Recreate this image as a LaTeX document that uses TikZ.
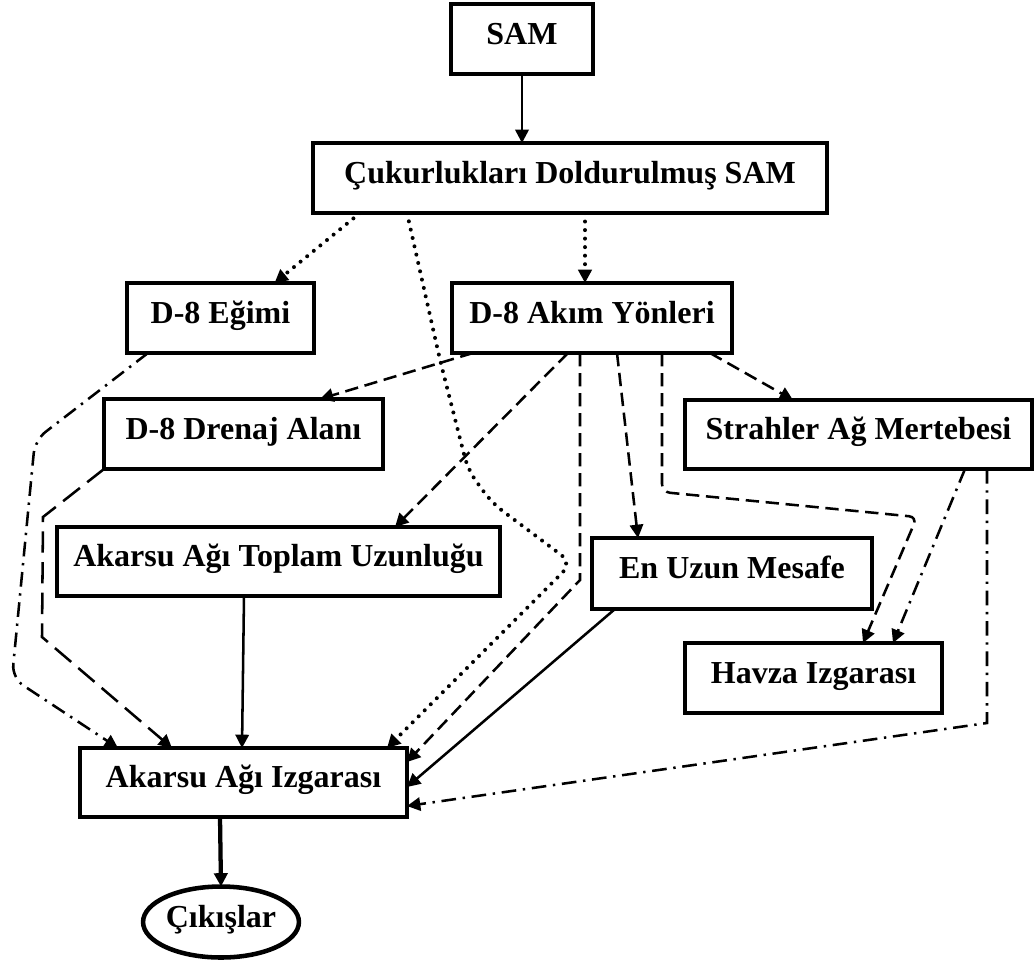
\documentclass[tikz,border=0pt]{standalone}
\usepackage{fontspec}
\setmainfont{Liberation Serif}
\usetikzlibrary{arrows.meta,calc,shapes.geometric}
\begin{document}
\begin{tikzpicture}[x=0.75pt,y=-0.75pt,
  box/.style={draw, line width=2.8pt, inner sep=0pt, outer sep=0pt,
    font=\bfseries\fontsize{24}{28}\selectfont, text height=16.5pt, text depth=8.5pt},
  conn/.style={line width=1.9pt, -{Triangle[length=10pt,width=10pt]}},
  dotline/.style={conn, line cap=round, dash pattern=on 0pt off 6.4pt, line width=3pt},
  dashline/.style={conn, dash pattern=on 10pt off 5pt},
  longdash/.style={conn, dash pattern=on 16pt off 7pt},
  dashdot/.style={conn, dash pattern=on 11pt off 5pt on 1.8pt off 5pt}
]
\useasboundingbox (0,0) rectangle (1035,965);

% boxes
\node[box, minimum width=142*0.75pt, minimum height=70*0.75pt] (sam) at (522,39) {SAM\hspace{19.5pt}};
\node[box, minimum width=514*0.75pt, minimum height=70*0.75pt] (cuk) at (570,178) {Çukurlukları Doldurulmuş SAM};
\node[box, minimum width=187*0.75pt, minimum height=70*0.75pt] (egim) at (220.5,318) {D-8 Eğimi};
\node[box, minimum width=280*0.75pt, minimum height=70*0.75pt] (akim) at (592,318) {D-8 Akım Yönleri};
\node[box, minimum width=279*0.75pt, minimum height=70*0.75pt] (dren) at (243.5,434) {D-8 Drenaj Alanı};
\node[box, minimum width=347*0.75pt, minimum height=69*0.75pt] (strah) at (858.5,434.5) {Strahler Ağ Mertebesi};
\node[box, minimum width=443*0.75pt, minimum height=69*0.75pt] (topl) at (278.5,561.5) {Akarsu Ağı Toplam Uzunluğu};
\node[box, minimum width=280*0.75pt, minimum height=71*0.75pt] (enuz) at (732,573.5) {En Uzun Mesafe\hspace{15pt}};
\node[box, minimum width=257*0.75pt, minimum height=70*0.75pt] (havza) at (813.5,678) {Havza Izgarası};
\node[box, minimum width=327*0.75pt, minimum height=69*0.75pt] (izg) at (243.5,782.5) {Akarsu Ağı Izgarası};
\node[box, ellipse, line width=3.4pt, minimum width=143*0.75pt, minimum height=71*0.75pt] (cik) at (221,922) {Çıkışlar};

% connectors
\draw[conn] (sam.south) -- (sam.south |- cuk.north);
\draw[dotline] ($(cuk.south west)+(47,0)$) -- ($(egim.north)+(54,0)$);
\draw[dotline] ($(cuk.south west)+(272,0)$) -- ($(akim.north west)+(133,0)$);
\draw[dotline, rounded corners=10] ($(cuk.south west)+(94,0)$) -- (440,360) -- (468,470) -- (492,503) -- (572,563) -- ($(izg.north east)+(-20,0)$);
\draw[dashdot, rounded corners=10] ($(egim.south west)+(21,0)$) -- (35,440) -- (12,678) -- ($(izg.north west)+(38,0)$);
\draw[dashline] ($(akim.south west)+(21,0)$) -- ($(dren.north west)+(216,0)$);
\draw[dashline] ($(akim.south west)+(116,0)$) -- ($(topl.north west)+(338,0)$);
\draw[dashline] ($(akim.south west)+(128,0)$) -- (580,580) -- ($(izg.north east)+(0,14)$);
\draw[dashline] ($(akim.south west)+(165,0)$) -- ($(enuz.north west)+(46,0)$);
\draw[dashline, rounded corners=6] ($(akim.south west)+(210,0)$) -- (662,492) -- (917,517) -- ($(havza.north west)+(178,0)$);
\draw[dashline] ($(akim.south east)+(-22,0)$) -- ($(strah.north west)+(108,0)$);
\draw[longdash] (dren.south west) -- (43,517) -- (42,637) -- ($(izg.north west)+(92,0)$);
\draw[conn] ($(topl.south west)+(187,0)$) -- ($(izg.north west)+(162,0)$);
\draw[conn] ($(enuz.south west)+(23,0)$) -- ($(izg.east)+(0,4.5)$);
\draw[dashdot] ($(strah.south west)+(280,0)$) -- ($(havza.north west)+(208,0)$);
\draw[dashdot] ($(strah.south west)+(302,0)$) -- (987,723) -- ($(izg.south east)+(0,-11)$);
\draw[conn, line width=3.2pt] ($(izg.south west)+(140,0)$) -- (cik.north);
\end{tikzpicture}
\end{document}
